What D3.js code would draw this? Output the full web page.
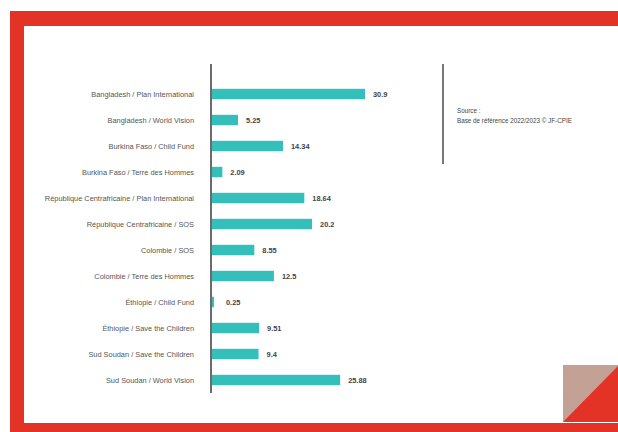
<!DOCTYPE html>
<html>
<head>
<meta charset="utf-8">
<script src="https://cdn.jsdelivr.net/npm/d3@7"></script>
<style>
  body { margin: 0; background: #fff; }
  svg { display: block; }
</style>
</head>
<body>
<svg id="chart" width="618" height="432"></svg>
<script>
const categories = [
    "Bangladesh / Plan International",
    "Bangladesh / World Vision",
    "Burkina Faso / Child Fund",
    "Burkina Faso / Terre des Hommes",
    "République Centrafricaine  / Plan International",
    "République Centrafricaine / SOS",
    "Colombie / SOS",
    "Colombie / Terre des Hommes",
    "Éthiopie / Child Fund",
    "Éthiopie / Save the Children",
    "Sud Soudan / Save the Children",
    "Sud Soudan / World Vision"
];
const values = [30.9, 5.25, 14.34, 2.09, 18.64, 20.2, 8.55, 12.5, 0.25, 9.51, 9.4, 25.88];
const sourceLines = ["Source :", "Base de référence 2022/2023 © JF-CPIE"];

const svg = d3.select("#chart");

// red frame
svg.append("rect").attr("x", 10).attr("y", 11).attr("width", 608).attr("height", 15).attr("fill", "#e33226");
svg.append("rect").attr("x", 10).attr("y", 11).attr("width", 14).attr("height", 421).attr("fill", "#e33226");
svg.append("rect").attr("x", 10).attr("y", 423).attr("width", 608).attr("height", 9).attr("fill", "#e33226");

// corner decoration
svg.append("rect").attr("x", 563).attr("y", 365).attr("width", 55).attr("height", 57).attr("fill", "#c3a195");
svg.append("path").attr("d", "M563,422 L618,422 L618,366 Z").attr("fill", "#e33226");

const y = d3.scaleBand()
    .domain(categories)
    .range([81, 393])
    .paddingInner(0.6)
    .paddingOuter(0.3);

const x = d3.scaleLinear()
    .domain([0, 30.9])
    .range([212, 365]);

const font = "'Liberation Sans', Arial, sans-serif";

// bars
svg.selectAll("rect.bar")
    .data(values)
    .join("rect")
    .attr("class", "bar")
    .attr("x", x(0))
    .attr("y", (d, i) => y(categories[i]))
    .attr("width", d => Math.max(x(d) - x(0), 2))
    .attr("height", y.bandwidth())
    .attr("fill", "#34bfba");

// category labels
svg.selectAll("text.cat")
    .data(categories)
    .join("text")
    .attr("class", "cat")
    .attr("x", 194)
    .attr("y", d => y(d) + y.bandwidth() / 2)
    .attr("dy", "0.35em")
    .attr("text-anchor", "end")
    .attr("font-family", font)
    .attr("font-size", 7.4)
    .attr("fill", "#555")
    .text(d => d);

// value labels
svg.selectAll("text.val")
    .data(values)
    .join("text")
    .attr("class", "val")
    .attr("x", d => Math.max(x(d) + 8, 226))
    .attr("y", (d, i) => y(categories[i]) + y.bandwidth() / 2)
    .attr("dy", "0.35em")
    .attr("font-family", font)
    .attr("font-size", 7.4)
    .attr("font-weight", "bold")
    .attr("fill", "#444")
    .text(d => d);

// axis line
svg.append("line")
    .attr("x1", 211).attr("x2", 211)
    .attr("y1", 64).attr("y2", 393)
    .attr("stroke", "#6b6b6b").attr("stroke-width", 2);

// source separator
svg.append("line")
    .attr("x1", 443).attr("x2", 443)
    .attr("y1", 64).attr("y2", 164)
    .attr("stroke", "#777").attr("stroke-width", 2);

svg.selectAll("text.src")
    .data(sourceLines)
    .join("text")
    .attr("class", "src")
    .attr("x", 457)
    .attr("y", (d, i) => 111 + i * 10)
    .attr("dy", "0.35em")
    .attr("font-family", font)
    .attr("font-size", 6.3)
    .attr("fill", "#444")
    .text(d => d);
</script>
</body>
</html>
